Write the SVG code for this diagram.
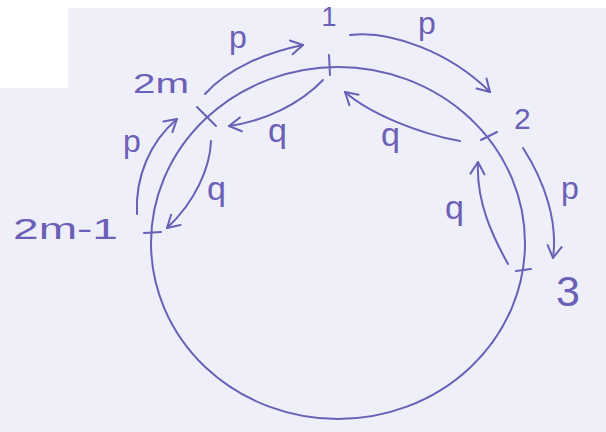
<svg xmlns="http://www.w3.org/2000/svg" width="606" height="432" viewBox="0 0 606 432">
<style>
.ln{fill:none;stroke:#6a60b6;stroke-width:2;stroke-linecap:round;stroke-linejoin:round}
.lb{font-family:"Liberation Sans","DejaVu Sans",sans-serif;fill:#6a60b6}
</style>
<defs>
<marker id="ah" viewBox="-14 -9 16 18" markerWidth="16" markerHeight="18" refX="0" refY="0" orient="auto" markerUnits="userSpaceOnUse">
<polyline points="-12,-7 0,0 -12,7" fill="none" stroke="#6a60b6" stroke-width="2" stroke-linecap="round" stroke-linejoin="round"/>
</marker>
</defs>
<rect x="0" y="0" width="606" height="432" fill="#efeff9"/>
<rect x="0" y="0" width="606" height="8" fill="#ffffff"/>
<rect x="0" y="0" width="68" height="88" fill="#ffffff"/>
<ellipse class="ln" cx="338" cy="243" rx="187" ry="176"/>
<g id="node-1">
<line class="ln" x1="329" y1="55" x2="330" y2="75"/>
<text class="lb" x="329" y="26" font-size="27" text-anchor="middle">1</text>
</g>
<g id="node-2">
<line class="ln" x1="481" y1="140" x2="497" y2="132"/>
<text class="lb" x="514" y="129" font-size="30">2</text>
</g>
<g id="node-3">
<line class="ln" x1="516" y1="271" x2="531" y2="269"/>
<text class="lb" x="556" y="306" font-size="43">3</text>
</g>
<g id="node-2m">
<line class="ln" x1="197" y1="107" x2="216" y2="126"/>
<text class="lb" x="133" y="93" font-size="28" textLength="56" lengthAdjust="spacingAndGlyphs">2m</text>
</g>
<g id="node-2m-1">
<line class="ln" x1="144" y1="233" x2="161" y2="232"/>
<text class="lb" x="13" y="239" font-size="30" textLength="105" lengthAdjust="spacingAndGlyphs">2m-1</text>
</g>
<g id="connectors">
<path class="ln" marker-end="url(#ah)" d="M205,94 C228,68 268,52 303,45"/>
<path class="ln" marker-end="url(#ah)" d="M350,35 C390,30 450,52 490,92"/>
<path class="ln" marker-end="url(#ah)" d="M523,148 C545,182 558,222 553,258"/>
<path class="ln" marker-end="url(#ah)" d="M137,214 C135,177 150,142 177,119"/>
<path class="ln" marker-end="url(#ah)" d="M323,80 C300,104 265,121 229,126"/>
<path class="ln" marker-end="url(#ah)" d="M460,141 C420,134 370,114 345,92"/>
<path class="ln" marker-end="url(#ah)" d="M211,141 C210,168 195,202 167,228"/>
<path class="ln" marker-end="url(#ah)" d="M508,264 C493,237 476,202 478,162"/>
<text class="lb" x="229" y="48" font-size="32">p</text>
<text class="lb" x="418" y="34" font-size="32">p</text>
<text class="lb" x="561" y="199" font-size="32">p</text>
<text class="lb" x="123" y="152" font-size="32">p</text>
<text class="lb" x="268" y="142" font-size="34">q</text>
<text class="lb" x="381" y="146" font-size="34">q</text>
<text class="lb" x="207" y="200" font-size="34">q</text>
<text class="lb" x="445" y="219" font-size="34">q</text>
</g>
</svg>
